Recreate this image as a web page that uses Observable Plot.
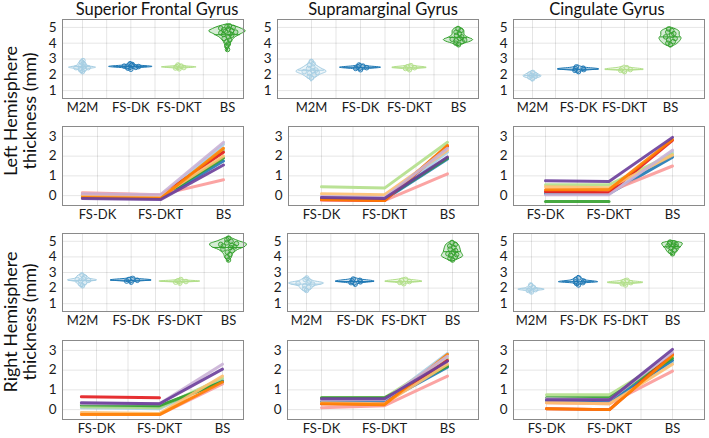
<!DOCTYPE html>
<html><head><meta charset="utf-8">
<script src="https://cdn.jsdelivr.net/npm/d3@7"></script>
<script src="https://cdn.jsdelivr.net/npm/@observablehq/plot@0.6"></script>
<style>
body{margin:0;background:#fff;}
#root{position:relative;width:709px;height:438px;font-family:Lato,"Open Sans",sans-serif;overflow:hidden;background:#fff;color:#111}
.title{position:absolute;font-size:16.5px;white-space:nowrap;transform:translateX(-50%);line-height:17px}
.ylab{position:absolute;font-size:18px;white-space:nowrap;text-align:center;transform:translate(-50%,-50%) rotate(-90deg);line-height:19px}
</style></head>
<body><div id="root"></div>
<script>
// ---------------- DATA ----------------
const regions = ["Superior Frontal Gyrus", "Supramarginal Gyrus", "Cingulate Gyrus"];
const hemispheres = ["Left Hemisphere", "Right Hemisphere"];
const violinMethods = ["M2M", "FS-DK", "FS-DKT", "BS"];
const violinColors = ["#a6cee3", "#1f78b4", "#b2df8a", "#33a02c"];
const lineMethods = ["FS-DK", "FS-DKT", "BS"];
const seriesColors = ["#a6cee3","#1f78b4","#b2df8a","#33a02c","#fb9a99","#e31a1c","#fdbf6f","#ff7f00","#cab2d6","#6a3d9a"];
const violinTicks = [1, 2, 3, 4, 5];
const lineTicks = [0, 1, 2, 3];

// density profiles: [thickness (mm), relative density] per method (M2M, FS-DK, FS-DKT, BS)
const densLeftSFG = [
  [[2.1,0],[2.2,0.06],[2.35,0.12],[2.45,0.28],[2.55,0.12],[2.7,0.08],[2.85,0.04],[2.95,0]],
  [[2.3,0],[2.4,0.1],[2.5,0.45],[2.6,0.12],[2.7,0.05],[2.8,0]],
  [[2.3,0],[2.4,0.1],[2.47,0.36],[2.55,0.1],[2.7,0]],
  [[3.5,0],[3.8,0.04],[4.1,0.08],[4.4,0.18],[4.6,0.3],[4.75,0.38],[4.9,0.3],[5.05,0.18],[5.2,0]]
];
const densLeftSMG = [
  [[1.6,0],[1.8,0.08],[2.0,0.18],[2.2,0.31],[2.4,0.2],[2.6,0.1],[2.8,0.04],[2.95,0]],
  [[2.25,0],[2.35,0.12],[2.45,0.42],[2.55,0.12],[2.7,0]],
  [[2.25,0],[2.35,0.1],[2.45,0.35],[2.55,0.1],[2.65,0]],
  [[3.8,0],[3.95,0.1],[4.1,0.25],[4.2,0.3],[4.35,0.2],[4.55,0.12],[4.75,0.12],[4.95,0.06],[5.05,0]]
];
const densLeftCG = [
  [[1.6,0],[1.75,0.08],[1.9,0.2],[2.0,0.15],[2.15,0.06],[2.25,0]],
  [[2.1,0],[2.25,0.12],[2.35,0.45],[2.45,0.15],[2.6,0]],
  [[2.1,0],[2.25,0.12],[2.33,0.42],[2.45,0.12],[2.6,0]],
  [[3.75,0],[3.9,0.12],[4.1,0.2],[4.3,0.24],[4.5,0.2],[4.7,0.2],[4.85,0.14],[5.0,0]]
];
const densRightSFG = [
  [[2.05,0],[2.2,0.08],[2.4,0.15],[2.5,0.3],[2.6,0.15],[2.8,0.08],[2.9,0]],
  [[2.3,0],[2.4,0.1],[2.5,0.42],[2.6,0.1],[2.7,0]],
  [[2.25,0],[2.35,0.1],[2.42,0.42],[2.5,0.1],[2.6,0]],
  [[3.7,0],[3.9,0.06],[4.2,0.1],[4.45,0.2],[4.65,0.35],[4.8,0.38],[5.0,0.22],[5.15,0.1],[5.3,0]]
];
const densRightSMG = [
  [[1.75,0],[1.9,0.1],[2.1,0.15],[2.3,0.36],[2.45,0.15],[2.6,0.06],[2.7,0]],
  [[2.15,0],[2.3,0.12],[2.42,0.4],[2.55,0.12],[2.65,0]],
  [[2.2,0],[2.32,0.12],[2.42,0.38],[2.55,0.1],[2.65,0]],
  [[3.7,0],[3.85,0.12],[4.05,0.22],[4.3,0.18],[4.55,0.16],[4.8,0.12],[4.95,0.05],[5.05,0]]
];
const densRightCG = [
  [[1.65,0],[1.8,0.1],[1.9,0.28],[2.0,0.12],[2.15,0.05],[2.3,0]],
  [[2.15,0],[2.3,0.12],[2.38,0.42],[2.5,0.15],[2.7,0.04],[2.8,0]],
  [[2.15,0],[2.25,0.12],[2.35,0.38],[2.45,0.12],[2.6,0]],
  [[4.1,0],[4.3,0.1],[4.5,0.14],[4.7,0.2],[4.85,0.22],[4.95,0.12],[5.02,0]]
];

// individual subject values (mm) per method
const ptsLeftSFG = [
  [2.2,2.3,2.35,2.4,2.45,2.45,2.5,2.55,2.6,2.7,2.8,2.9],
  [2.35,2.42,2.47,2.5,2.52,2.55,2.6,2.65,2.7],
  [2.38,2.43,2.46,2.5,2.55,2.62],
  [3.6,3.8,3.95,4.1,4.2,4.3,4.4,4.5,4.55,4.6,4.65,4.7,4.75,4.8,4.85,4.9,4.95,5.0,5.05,5.1]
];
const ptsLeftSMG = [
  [1.8,1.9,2.0,2.1,2.15,2.2,2.25,2.3,2.4,2.5,2.6,2.7,2.85],
  [2.32,2.4,2.45,2.5,2.55,2.62],
  [2.32,2.4,2.45,2.5,2.58],
  [3.9,4.0,4.1,4.15,4.2,4.25,4.3,4.4,4.5,4.6,4.7,4.8,4.9]
];
const ptsLeftCG = [
  [1.75,1.85,1.9,1.95,2.0,2.05,2.15],
  [2.2,2.28,2.33,2.38,2.42,2.5],
  [2.2,2.28,2.33,2.38,2.45],
  [3.9,4.0,4.1,4.2,4.3,4.4,4.5,4.6,4.7,4.8,4.9]
];
const ptsRightSFG = [
  [2.15,2.25,2.35,2.45,2.5,2.55,2.6,2.7,2.85],
  [2.38,2.45,2.5,2.55,2.62],
  [2.32,2.38,2.42,2.47,2.55],
  [3.8,4.0,4.15,4.3,4.4,4.5,4.6,4.65,4.7,4.75,4.8,4.85,4.9,5.0,5.1,5.2]
];
const ptsRightSMG = [
  [1.85,1.95,2.05,2.15,2.25,2.3,2.35,2.45,2.55,2.65],
  [2.25,2.35,2.4,2.45,2.5,2.58],
  [2.28,2.36,2.42,2.48,2.56],
  [3.8,3.9,4.0,4.1,4.15,4.2,4.3,4.4,4.5,4.6,4.7,4.8,4.9]
];
const ptsRightCG = [
  [1.75,1.85,1.9,1.95,2.05,2.2],
  [2.2,2.3,2.35,2.4,2.45,2.55,2.65],
  [2.2,2.28,2.35,2.4,2.5],
  [4.2,4.35,4.45,4.55,4.65,4.7,4.75,4.8,4.85,4.9,4.95]
];

// differences per series (10 colours) at FS-DK, FS-DKT, BS
const linesLeftSFG = [
  [0.05,-0.05,2.6],[-0.1,-0.15,1.75],[0.0,-0.05,2.3],[-0.05,-0.1,1.9],[0.15,0.05,0.8],
  [0.05,0.0,2.2],[0.0,-0.05,2.0],[-0.1,-0.15,2.4],[0.1,0.05,2.7],[-0.15,-0.2,1.55]
];
const linesLeftSMG = [
  [-0.15,-0.2,2.2],[-0.15,-0.2,1.85],[0.45,0.38,2.7],[-0.1,-0.15,1.9],[-0.25,-0.25,1.1],
  [-0.2,-0.25,2.5],[0.1,0.05,2.3],[-0.2,-0.25,2.55],[-0.05,-0.1,2.4],[-0.1,-0.15,1.95]
];
const linesLeftCG = [
  [0.15,0.1,2.2],[0.1,0.1,1.95],[0.55,0.55,2.1],[-0.3,-0.3,null],[0.25,0.2,1.5],
  [0.2,0.15,2.8],[0.45,0.4,2.05],[0.3,0.3,2.85],[0.05,0.05,2.3],[0.75,0.72,2.95]
];
const linesRightSFG = [
  [0.1,0.05,1.5],[0.2,0.15,1.45],[0.15,0.1,1.6],[0.25,0.2,1.4],[-0.2,-0.25,1.3],
  [0.65,0.6,null],[-0.15,-0.2,1.7],[-0.25,-0.25,1.4],[0.3,0.3,2.3],[0.35,0.3,2.05]
];
const linesRightSMG = [
  [0.45,0.45,2.85],[0.4,0.4,2.15],[0.6,0.6,2.6],[0.6,0.6,2.2],[0.1,0.2,1.7],
  [0.3,0.3,2.5],[0.35,0.3,2.3],[0.3,0.25,2.8],[0.5,0.5,2.7],[0.55,0.55,2.45]
];
const linesRightCG = [
  [0.5,0.45,2.4],[0.45,0.4,2.5],[0.75,0.75,2.7],[0.6,0.6,2.6],[0.35,0.3,1.95],
  [0.05,0.0,2.8],[0.35,0.3,2.3],[0.05,0.0,2.75],[0.55,0.5,2.9],[0.5,0.5,3.05]
];

// ---------------- LAYOUT ----------------
const root = document.getElementById("root");
const JIT = [0,-0.6,0.5,-0.3,0.7,-0.8,0.2,0.6,-0.5,0.3,-0.7,0.8,-0.2,0.4,-0.4,0.1,-0.9,0.9,-0.1,0.55];
// horizontal placement of the three line-plot columns (first column's lines begin left of its tick, as in the source)
const lineXs = [[0.76, 2, 3], [1, 2, 3], [1, 2, 3]];

function hwAt(profile, v) {
  for (let k = 1; k < profile.length; k++) {
    const [a, wa] = profile[k-1], [b, wb] = profile[k];
    if (v >= a && v <= b) return wa + (wb - wa) * (v - a) / (b - a);
  }
  return 0;
}

function domainFrom(x0, x1, first, last, n) {
  const u = (last - first) / (n - 1);
  return [1 - (first - x0) / u, n + (x1 - last) / u];
}

function addPanel({x0, x1, y0, y1, first, last, n, ydom, yticks, xlabels, gridXs, marks}) {
  const mL = 26, mR = 4, mT = 4, mB = 26;
  const svg = Plot.plot({
    width: (x1 - x0) + mL + mR,
    height: (y1 - y0) + mT + mB,
    marginLeft: mL, marginRight: mR, marginTop: mT, marginBottom: mB,
    x: {domain: domainFrom(x0, x1, first, last, n), axis: null},
    y: {domain: ydom, axis: null},
    style: {background: "transparent", overflow: "visible", fontFamily: "Lato, 'Open Sans', sans-serif", color: "#1a1a1a"},
    marks: [
      Plot.gridX(gridXs, {stroke: "#000", strokeOpacity: 0.1}),
      Plot.gridY(yticks, {stroke: "#000", strokeOpacity: 0.1}),
      ...marks,
      Plot.frame({stroke: "#8a8a8a"}),
      Plot.axisY(yticks, {anchor: "left", tickSize: 0, tickPadding: 6, fontSize: 13.5, label: null}),
      Plot.axisX(d3.range(1, n + 1), {anchor: "bottom", tickSize: 0, tickPadding: 4, fontSize: 13, label: null, tickFormat: d => xlabels[d - 1]})
    ]
  });
  svg.style.position = "absolute";
  svg.style.left = (x0 - mL) + "px";
  svg.style.top = (y0 - mT) + "px";
  root.appendChild(svg);
}

function violinMarks(dens, pts) {
  const marks = [];
  dens.forEach((prof, i) => {
    const c = i + 1, col = violinColors[i];
    marks.push(Plot.areaX(prof, {y: d => d[0], x1: d => c - d[1], x2: d => c + d[1],
      fill: col, fillOpacity: 0.2, stroke: col, strokeWidth: 1, curve: "monotone-y"}));
    const vals = pts[i];
    const mean = d3.mean(vals);
    const hm = hwAt(prof, mean);
    marks.push(Plot.ruleY([mean], {x1: c - hm, x2: c + hm, stroke: col, strokeWidth: 1}));
    marks.push(Plot.dot(vals, {x: (v, j) => c + JIT[j % JIT.length] * 0.6 * hwAt(prof, v), y: v => v,
      r: 2.3, stroke: col, fill: col, fillOpacity: 0.2, strokeWidth: 0.9}));
  });
  return marks;
}

function lineMarks(series, xs) {
  return series.map((vals, s) => Plot.line(vals.map((v, k) => ({k: xs[k], v})),
    {x: "k", y: "v", stroke: seriesColors[s], strokeWidth: 3, strokeOpacity: 0.9, defined: d => d.v != null}));
}

const violinCols = [[62,243],[277,478],[513,704]];
const violinColsR = [[62,243],[287,478],[513,704]];
const lineCols = [[62,243],[288,478],[513,704]];
const lineColsR = [[62,243],[287,478],[513,704]];
const vCatL = [[82,227],[311,458],[532,670]];
const vCatR = [[82,228],[306,452],[531,672]];
const lCatL = [[97,223],[321,447],[545,672]];
const lCatR = [[96,222],[321,447],[546,672]];

const densL = [densLeftSFG, densLeftSMG, densLeftCG];
const densR = [densRightSFG, densRightSMG, densRightCG];
const ptsL = [ptsLeftSFG, ptsLeftSMG, ptsLeftCG];
const ptsR = [ptsRightSFG, ptsRightSMG, ptsRightCG];
const linL = [linesLeftSFG, linesLeftSMG, linesLeftCG];
const linR = [linesRightSFG, linesRightSMG, linesRightCG];

for (let c = 0; c < 3; c++) {
  addPanel({x0: violinCols[c][0], x1: violinCols[c][1], y0: 19, y1: 98, first: vCatL[c][0], last: vCatL[c][1], n: 4,
    ydom: [0.5, 5.5], yticks: violinTicks, xlabels: violinMethods, gridXs: [1,1.5,2,2.5,3,3.5,4],
    marks: violinMarks(densL[c], ptsL[c])});
  addPanel({x0: lineCols[c][0], x1: lineCols[c][1], y0: 126, y1: 205, first: lCatL[c][0], last: lCatL[c][1], n: 3,
    ydom: [-0.5, 3.5], yticks: lineTicks, xlabels: lineMethods, gridXs: [1,1.5,2,2.5,3],
    marks: lineMarks(linL[c], lineXs[c])});
  addPanel({x0: violinColsR[c][0], x1: violinColsR[c][1], y0: 233, y1: 311, first: vCatR[c][0], last: vCatR[c][1], n: 4,
    ydom: [0.5, 5.5], yticks: violinTicks, xlabels: violinMethods, gridXs: [1,1.5,2,2.5,3,3.5,4],
    marks: violinMarks(densR[c], ptsR[c])});
  addPanel({x0: lineColsR[c][0], x1: lineColsR[c][1], y0: 340, y1: 419, first: lCatR[c][0], last: lCatR[c][1], n: 3,
    ydom: [-0.5, 3.5], yticks: lineTicks, xlabels: lineMethods, gridXs: [1,1.5,2,2.5,3],
    marks: lineMarks(linR[c], lineXs[c])});
}

// titles
const titleX = [157, 383, 607];
regions.forEach((t, c) => {
  const d = document.createElement("div");
  d.className = "title"; d.textContent = t;
  d.style.left = titleX[c] + "px"; d.style.top = "1px";
  root.appendChild(d);
});
// y labels
[[111, hemispheres[0]], [322, hemispheres[1]]].forEach(([cy, h]) => {
  const d = document.createElement("div");
  d.className = "ylab";
  d.innerHTML = h + "<br>thickness (mm)";
  d.style.left = "20px"; d.style.top = cy + "px";
  root.appendChild(d);
});
</script>
</body></html>
